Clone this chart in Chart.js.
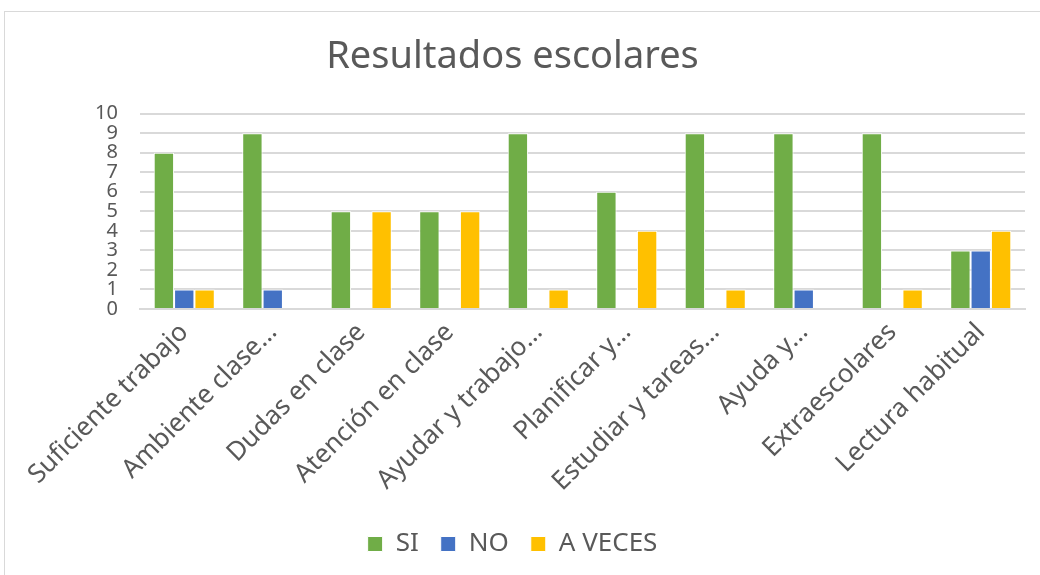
<!DOCTYPE html>
<html>
<head>
<meta charset="utf-8">
<script src="https://cdn.jsdelivr.net/npm/chart.js@4"></script>
<style>
  body { margin: 0; background: #fff; }
  #marco { position: absolute; left: 4px; top: 11px; width: 1040px; height: 570px;
           border-top: 1px solid #d9d9d9; border-left: 1px solid #d9d9d9; }
  #lienzo { position: absolute; left: 0; top: 0; width: 1040px; height: 575px; }
</style>
</head>
<body>
<div id="marco"></div>
<div id="lienzo"><canvas id="plot1" width="1040" height="575"></canvas></div>
<script>
// Datos
let categorias = ['Suficiente trabajo', 'Ambiente clase…', 'Dudas en clase', 'Atención en clase',
  'Ayudar y trabajo…', 'Planificar y…', 'Estudiar y tareas…', 'Ayuda y…', 'Extraescolares', 'Lectura habitual'];
let valoresSi = [8, 9, 5, 5, 9, 6, 9, 9, 9, 3];
let valoresNo = [1, 1, 0, 0, 0, 0, 0, 1, 0, 3];
let valoresAVeces = [1, 0, 5, 5, 1, 4, 1, 0, 1, 4];
let ticksY = [0, 1, 2, 3, 4, 5, 6, 7, 8, 9, 10];

let gris = '#595959';
let fuente = "'Noto Sans', sans-serif";

let plotRef = document.getElementById('plot1');

let config = {
  type: 'bar',
  data: {
    labels: categorias,
    datasets: [
      { label: 'SI', data: valoresSi, backgroundColor: '#70AD47', borderColor: '#ffffff', borderWidth: 1 },
      { label: 'NO', data: valoresNo, backgroundColor: '#4472C4', borderColor: '#ffffff', borderWidth: 1 },
      { label: 'A VECES', data: valoresAVeces, backgroundColor: '#FFC000', borderColor: '#ffffff', borderWidth: 1 }
    ]
  },
  options: {
    responsive: false,
    animation: false,
    datasets: { bar: { categoryPercentage: 0.69, barPercentage: 1 } },
    layout: { padding: { left: 0, right: 15, top: 10, bottom: 8 } },
    plugins: {
      title: {
        display: true,
        text: 'Resultados escolares',
        color: gris,
        font: { family: fuente, size: 38, weight: 'normal' },
        padding: { top: 24, bottom: 34 }
      },
      legend: {
        position: 'bottom',
        labels: {
          color: gris,
          font: { family: fuente, size: 26 },
          boxWidth: 15,
          boxHeight: 15,
          padding: 22
        }
      },
      tooltip: { enabled: false }
    },
    scales: {
      x: {
        grid: { display: false },
        border: { color: '#d9d9d9', width: 2 },
        ticks: {
          color: gris,
          font: { family: fuente, size: 26 },
          maxRotation: 45,
          minRotation: 45,
          autoSkip: false,
          padding: 0
        },
        afterFit: (escala) => { escala.height = 200; }
      },
      y: {
        min: 0,
        max: 10,
        afterBuildTicks: (escala) => { escala.ticks = ticksY.map(v => ({ value: v })); },
        grid: { color: '#d9d9d9', lineWidth: 2, drawTicks: false },
        border: { display: false },
        ticks: {
          color: gris,
          font: { family: fuente, size: 20 },
          autoSkip: false,
          padding: 22
        },
        afterFit: (escala) => { escala.width = 140; }
      }
    }
  }
};

let chart1 = new Chart(plotRef, config);
</script>
</body>
</html>
